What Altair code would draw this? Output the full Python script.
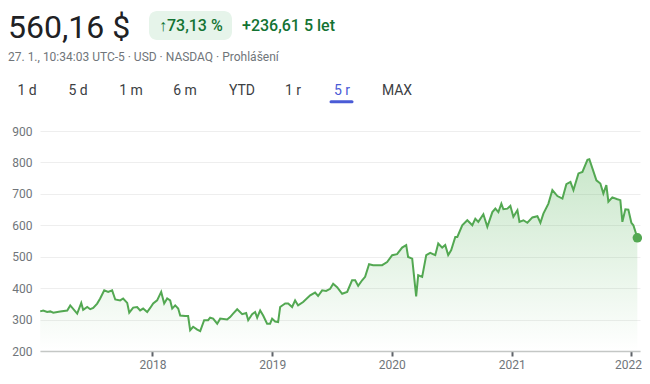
import altair as alt
import pandas as pd

# ---- data (decimal year, price in USD) ----
years = [
    2017.062, 2017.087, 2017.120, 2017.146, 2017.171, 2017.229, 2017.288, 2017.313,
    2017.371, 2017.405, 2017.421, 2017.455, 2017.480, 2017.505, 2017.538, 2017.563,
    2017.597, 2017.630, 2017.663, 2017.689, 2017.730, 2017.755, 2017.789, 2017.806,
    2017.839, 2017.872, 2017.897, 2017.922, 2017.956, 2017.981, 2018.006, 2018.039,
    2018.073, 2018.098, 2018.123, 2018.148, 2018.165, 2018.190, 2018.215, 2018.232,
    2018.273, 2018.298, 2018.315, 2018.340, 2018.374, 2018.399, 2018.432, 2018.465,
    2018.482, 2018.507, 2018.541, 2018.566, 2018.624, 2018.649, 2018.674, 2018.708,
    2018.750, 2018.783, 2018.800, 2018.833, 2018.858, 2018.875, 2018.900, 2018.925,
    2018.958, 2018.983, 2019.000, 2019.025, 2019.050, 2019.067, 2019.109, 2019.134,
    2019.167, 2019.192, 2019.217, 2019.259, 2019.318, 2019.359, 2019.384, 2019.418,
    2019.451, 2019.485, 2019.510, 2019.543, 2019.585, 2019.627, 2019.668, 2019.694,
    2019.719, 2019.752, 2019.777, 2019.810, 2019.844, 2019.877, 2019.919, 2019.961,
    2020.003, 2020.044, 2020.086, 2020.120, 2020.136, 2020.170, 2020.203, 2020.220,
    2020.253, 2020.287, 2020.320, 2020.362, 2020.387, 2020.420, 2020.445, 2020.470,
    2020.495, 2020.529, 2020.546, 2020.587, 2020.629, 2020.671, 2020.696, 2020.721,
    2020.763, 2020.796, 2020.838, 2020.863, 2020.888, 2020.913, 2020.930, 2020.963,
    2020.988, 2021.013, 2021.047, 2021.064, 2021.097, 2021.130, 2021.172, 2021.214,
    2021.239, 2021.264, 2021.306, 2021.339, 2021.381, 2021.423, 2021.456, 2021.490,
    2021.515, 2021.557, 2021.590, 2021.632, 2021.648, 2021.707, 2021.740, 2021.765,
    2021.790, 2021.807, 2021.840, 2021.882, 2021.907, 2021.924, 2021.949, 2021.974,
    2021.999, 2022.016, 2022.049,
]
prices = [
    326, 329, 324, 326, 322, 326, 329, 345,
    319, 353, 331, 340, 333, 337, 351, 367,
    393, 388, 393, 364, 361, 367, 353, 322,
    338, 340, 329, 335, 324, 337, 351, 361,
    388, 351, 367, 361, 335, 345, 335, 313,
    311, 311, 266, 277, 268, 263, 298, 298,
    306, 303, 287, 303, 300, 308, 319, 333,
    317, 321, 298, 317, 324, 306, 329, 313,
    287, 287, 303, 294, 292, 340, 351, 351,
    340, 361, 345, 356, 377, 386, 375, 393,
    391, 398, 414, 403, 382, 388, 425, 425,
    407, 425, 436, 476, 473, 473, 473, 483,
    505, 508, 529, 537, 499, 494, 374, 441,
    436, 505, 512, 505, 542, 529, 537, 505,
    521, 563, 563, 600, 616, 600, 621, 611,
    635, 595, 642, 653, 642, 669, 651, 653,
    662, 627, 648, 611, 616, 608, 625, 629,
    608, 637, 669, 712, 693, 685, 731, 738,
    712, 765, 770, 808, 810, 743, 733, 701,
    728, 675, 689, 683, 680, 611, 651, 650,
    608, 600, 560.16,
]
y_ticks = [200, 300, 400, 500, 600, 700, 800, 900]
x_tick_years = [2018, 2019, 2020, 2021, 2022]

price_text = "560,16 $"
change_pct = "↑73,13 %"
change_abs = "+236,61 5 let"
subtitle = "27. 1., 10:34:03 UTC-5 · USD · NASDAQ · Prohlášení"
tabs = ["1 d", "5 d", "1 m", "6 m", "YTD", "1 r", "5 r", "MAX"]
active_tab = "5 r"


def to_date(y):
    yr = int(y)
    start = pd.Timestamp(yr, 1, 1)
    end = pd.Timestamp(yr + 1, 1, 1)
    return start + (end - start) * (y - yr)


df = pd.DataFrame({"date": [to_date(y) for y in years], "price": prices})
last = df.tail(1)

GREEN = "#53a852"
TEXT_GREEN = "#137333"
BLUE = "#4a5bd6"
GREY = "#70757a"
FONT = "Roboto"

last_year_test = f"year(datum.value) == {x_tick_years[-1]}"

x_enc = alt.X(
    "date:T",
    scale=alt.Scale(domain=[alt.DateTime(year=2017, month=1, date=23),
                            alt.DateTime(year=2022, month=1, date=27)]),
    axis=alt.Axis(
        values=[alt.DateTime(year=y, month=1, date=1) for y in x_tick_years],
        format="%Y", title=None, grid=False,
        domainColor="#c4c7c5", domainWidth=1.5,
        tickColor="#5f6368", tickWidth=2, tickSize=5,
        labelColor=GREY, labelFontSize=12, labelFont=FONT, labelPadding=3,
        labelAlign={"condition": {"test": last_year_test, "value": "right"}, "value": "center"},
        labelOffset={"condition": {"test": last_year_test, "value": 10}, "value": 0},
    ),
)
y_enc = alt.Y(
    "price:Q", scale=alt.Scale(domain=[200, 900], nice=False, zero=False),
    axis=alt.Axis(values=y_ticks, title=None, domain=False, ticks=False,
                  gridColor="#eeeeee", gridWidth=1, labelOverlap=False,
                  labelColor=GREY, labelFontSize=12, labelFont=FONT, labelPadding=8),
)

base = alt.Chart(df)

area = base.mark_area(
    color=alt.Gradient(
        gradient="linear",
        stops=[alt.GradientStop(color="rgba(76,175,80,0.30)", offset=0),
               alt.GradientStop(color="rgba(76,175,80,0.0)", offset=1)],
        x1=1, x2=1, y1=0, y2=1,
    )
).encode(x=x_enc, y=y_enc, y2=alt.datum(200))

line = base.mark_line(color=GREEN, strokeWidth=2).encode(x=x_enc, y=y_enc)

dot = alt.Chart(last).mark_point(filled=True, color=GREEN, size=90, opacity=1).encode(
    x=x_enc, y=y_enc)

one = alt.Data(values=[{}])


def txt(text, x, y, size, color, weight=400, align="left", baseline="middle"):
    return alt.Chart(one).mark_text(
        text=text, fontSize=size, font=FONT, color=color, fontWeight=weight,
        align=align, baseline=baseline,
    ).encode(x=alt.value(x), y=alt.value(y))


layers = [area, line, dot]

# header (positions relative to the plot area's top-left corner)
layers.append(txt(price_text, -32, -93, 32, "#202124", baseline="alphabetic"))
layers.append(alt.Chart(one).mark_rect(color="#e6f4ea", cornerRadius=8).encode(
    x=alt.value(109), x2=alt.value(192), y=alt.value(-120), y2=alt.value(-91)))
layers.append(txt(change_pct, 119, -105.5, 16, TEXT_GREEN, weight=500))
layers.append(txt(change_abs, 202, -105.5, 16, TEXT_GREEN, weight=500))
layers.append(txt(subtitle, -32, -74, 12, GREY))

tab_x = [-13, 38, 91, 145, 202, 253, 302, 357]
for label, tx in zip(tabs, tab_x):
    col = BLUE if label == active_tab else "#3c4043"
    layers.append(txt(label, tx, -40.3, 14, col, weight=400, align="center"))
layers.append(alt.Chart(one).mark_rule(color=BLUE, strokeWidth=3, strokeCap="round").encode(
    x=alt.value(291), x2=alt.value(312), y=alt.value(-29.3), y2=alt.value(-29.3)))

chart = alt.layer(*layers).properties(
    width=600, height=220,
    autosize=alt.AutoSizeParams(type="none"),
    padding={"left": 32, "top": 123, "right": 2, "bottom": 25},
    background="white",
).configure_view(stroke=None)

chart.save("out.html", embed_options={"renderer": "svg", "actions": False})
